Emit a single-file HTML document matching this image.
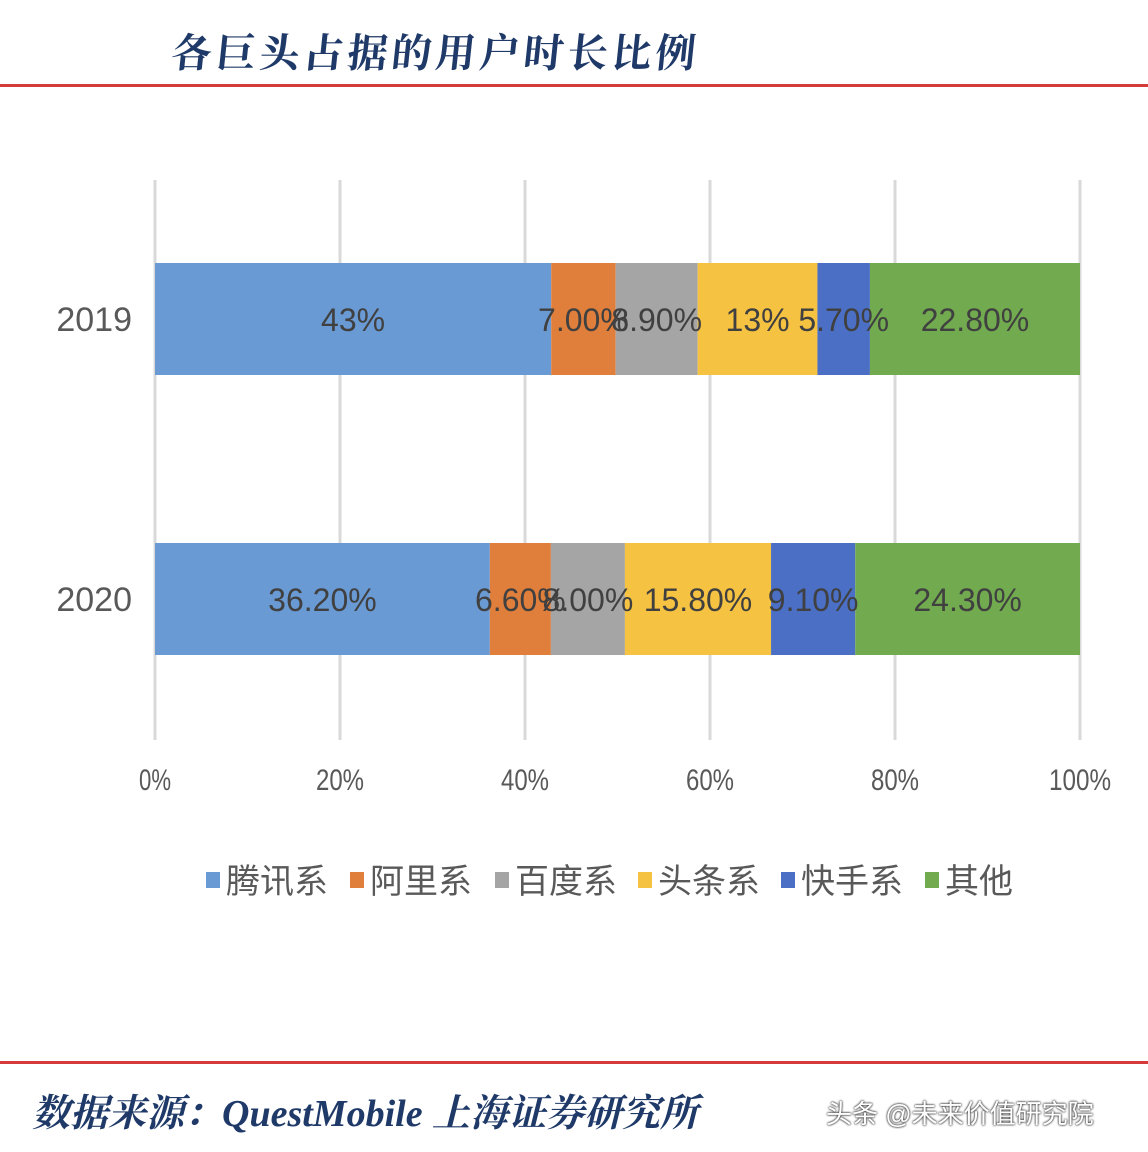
<!DOCTYPE html>
<html><head><meta charset="utf-8"><style>
body{margin:0;width:1148px;height:1152px;background:#fff;position:relative;overflow:hidden;font-family:"Liberation Sans","Noto Sans CJK SC",sans-serif}
.t{position:absolute}
</style></head><body>
<div class="t" style="left:172px;top:22px;font:bold 40px 'Noto Serif CJK SC','Noto Sans CJK SC',serif;color:#1f3a68;letter-spacing:4px;transform:skewX(-6deg)">各巨头占据的用户时长比例</div>
<div class="t" style="left:0;top:84px;width:1148px;height:3px;background:#d43a3a"></div>
<svg class="t" style="left:0;top:0" width="1148" height="1152">
<g id="grid"></g><g id="bars"></g><g id="labels"></g>
</svg>
<div class="t" style="left:0;top:1061px;width:1148px;height:3px;background:#d43a3a"></div>
<div class="t" style="left:32px;top:1082px;font:italic bold 38px 'Liberation Serif','Noto Serif CJK SC',serif;color:#1f3a68">数据来源：QuestMobile 上海证券研究所</div>
<div class="t" style="left:826px;top:1094px;font:26px 'Liberation Sans','Noto Sans CJK SC',sans-serif;color:#fff;text-shadow:0 0 2px #333,0 0 2px #333">头条 @未来价值研究院</div>
<script>
const categories=["2019","2020"];
const seriesNames=["腾讯系","阿里系","百度系","头条系","快手系","其他"];
const colors=["#6a9ad4","#e07f3c","#a5a5a5","#f6c242","#4a6fc4","#72ab4f"];
const values2019=[43,7,8.9,13,5.7,22.8];
const values2020=[36.2,6.6,8,15.8,9.1,24.3];
const labels2019=["43%","7.00%","8.90%","13%","5.70%","22.80%"];
const labels2020=["36.20%","6.60%","8.00%","15.80%","9.10%","24.30%"];
const ticks=[0,20,40,60,80,100];
const NS="http://www.w3.org/2000/svg";
const x0=155,x1=1080;
const xs=p=>x0+(x1-x0)*p/100;
const rowY=[263,543],bh=112;
function mk(tag,attrs,parent,txt){const e=document.createElementNS(NS,tag);for(const k in attrs)e.setAttribute(k,attrs[k]);if(txt!==undefined)e.textContent=txt;document.getElementById(parent).appendChild(e);return e;}
ticks.forEach(t=>{
 const l=mk('line',{x1:xs(t),x2:xs(t),y1:180,y2:740,stroke:'#d9d9d9','stroke-width':3},'grid');
 
 
 const tx=mk('text',{x:xs(t),y:790,'text-anchor':'middle','font-size':30,fill:'#595959',textLength:t==100?62:(t==0?32:48),lengthAdjust:'spacingAndGlyphs'},'labels',t+'%');
 
 
});
[values2019,values2020].forEach((vals,r)=>{
 const sum=vals.reduce((a,b)=>a+b,0);const labs=r?labels2020:labels2019;let acc=0;
 const yl=mk('text',{x:132,y:rowY[r]+bh/2+12,'text-anchor':'end','font-size':34,fill:'#595959'},'labels',categories[r]);
 
 
 vals.forEach((v,i)=>{
  const a=xs(acc/sum*100),b=xs((acc+v)/sum*100);acc+=v;
  const rc=mk('rect',{x:a,y:rowY[r],width:b-a,height:bh,fill:colors[i]},'bars');
  
  
  const tx=mk('text',{x:(a+b)/2,y:rowY[r]+bh/2+12,'text-anchor':'middle','font-size':32,fill:'#404040'},'labels',labs[i]);
  
  
 });
});
const legX=[206,350,495,638,781,925];
seriesNames.forEach((n,i)=>{
 const r=mk('rect',{x:legX[i],y:872,width:14,height:16,fill:colors[i]},'labels');
 
 
 const t=mk('text',{x:legX[i]+20,y:893,'font-size':34,fill:'#595959'},'labels',n);
 
 
});
</script>
</body></html>
